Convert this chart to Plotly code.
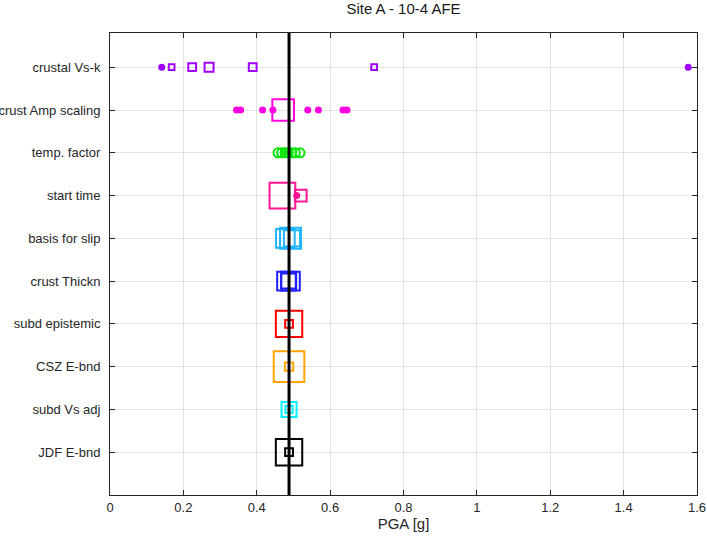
import plotly.graph_objects as go

# ---- data ----
categories = ["crustal Vs-k", "crust Amp scaling", "temp. factor", "start time",
              "basis for slip", "crust Thickn", "subd epistemic", "CSZ E-bnd",
              "subd Vs adj", "JDF E-bnd"]
mean_pga = 0.488

vsk_pga = [0.141, 0.168, 0.224, 0.270, 0.389, 0.720, 1.576]
vsk_wt = [0.02, 0.09, 0.16, 0.20, 0.16, 0.09, 0.02]

amp_pga = [0.345, 0.356, 0.416, 0.444, 0.472, 0.539, 0.568, 0.635, 0.646]
amp_wt = [0.02, 0.02, 0.02, 0.02, 0.62, 0.02, 0.02, 0.02, 0.02]

temp_pga = [0.458, 0.468, 0.477, 0.486, 0.495, 0.505, 0.518]
temp_wt = [0.16, 0.12, 0.12, 0.12, 0.12, 0.12, 0.09]

start_pga = [0.470, 0.509, 0.520]
start_wt = [0.76, 0.02, 0.29]

slip_pga = [0.478, 0.492, 0.496]
slip_wt = [0.52, 0.60, 0.44]

thick_pga = [0.481, 0.492, 0.487]
thick_wt = [0.52, 0.52, 0.40]

subd_pga = [0.488, 0.488]
subd_wt = [0.78, 0.16]

csz_pga = [0.488, 0.488]
csz_wt = [0.92, 0.18]

vsadj_pga = [0.488, 0.488]
vsadj_wt = [0.40, 0.14]

jdf_pga = [0.488, 0.488]
jdf_wt = [0.78, 0.16]

row_pga = [vsk_pga, amp_pga, temp_pga, start_pga, slip_pga, thick_pga,
           subd_pga, csz_pga, vsadj_pga, jdf_pga]
row_wt = [vsk_wt, amp_wt, temp_wt, start_wt, slip_wt, thick_wt,
          subd_wt, csz_wt, vsadj_wt, jdf_wt]
row_colors = ["#A000FF", "#FF00E0", "#00E600", "#FF1493", "#1EB4FF",
              "#1E1EFF", "#FF0000", "#FFA500", "#00F0FF", "#000000"]
x_ticks = [0, 0.2, 0.4, 0.6, 0.8, 1, 1.2, 1.4, 1.6]

fig = go.Figure()

for i, cat in enumerate(categories):
    xs = row_pga[i]
    ws = row_wt[i]
    sizes = [3 + 30 * w for w in ws]
    if cat == "temp. factor":
        symbols = ["circle-open"] * len(xs)
        sizes = [9 for _ in ws]
    else:
        symbols = ["circle" if w <= 0.03 else "square-open" for w in ws]
        sizes = [5 if w <= 0.03 else s for w, s in zip(ws, sizes)]
    fig.add_trace(go.Scatter(
        x=xs, y=[cat] * len(xs), mode="markers",
        marker=dict(symbol=symbols, size=sizes, color=row_colors[i],
                    opacity=1,
                    line=dict(color=row_colors[i], width=2)),
        showlegend=False, hoverinfo="x+y"))

fig.add_shape(type="line", xref="x", yref="paper", x0=mean_pga, x1=mean_pga,
              y0=0, y1=1, line=dict(color="black", width=3))

FONT = "Liberation Sans, Arial"
axis_common = dict(showline=True, linecolor="#262626", linewidth=1,
                   mirror="ticks", ticks="inside", ticklen=5,
                   tickcolor="#262626", showgrid=True, gridcolor="#E3E3E3",
                   gridwidth=1, zeroline=False, automargin=False,
                   tickfont=dict(family=FONT, size=13, color="#262626"))

fig.update_xaxes(range=[0, 1.6], tickvals=x_ticks,
                 ticktext=[("%g" % t) for t in x_ticks],
                 title=dict(text="PGA [g]", standoff=4,
                            font=dict(family=FONT, size=15, color="#262626")),
                 **axis_common)
fig.update_yaxes(type="category", categoryorder="array", categoryarray=categories,
                 range=[10.0, -0.8], ticklabelstandoff=6, **axis_common)

fig.update_layout(
    width=707, height=536,
    margin=dict(l=110, r=10, t=33, b=41),
    paper_bgcolor="white", plot_bgcolor="white",
    title=dict(text="Site A - 10-4 AFE", x=0.5, xref="paper",
               y=1 - 3 / 536, yref="container", yanchor="top",
               font=dict(family=FONT, size=15, color="#1A1A1A")),
)

fig.write_html("out.html", config={"displayModeBar": False},
               post_script="document.body.style.margin='0';"
                           "document.body.style.padding='0';")
